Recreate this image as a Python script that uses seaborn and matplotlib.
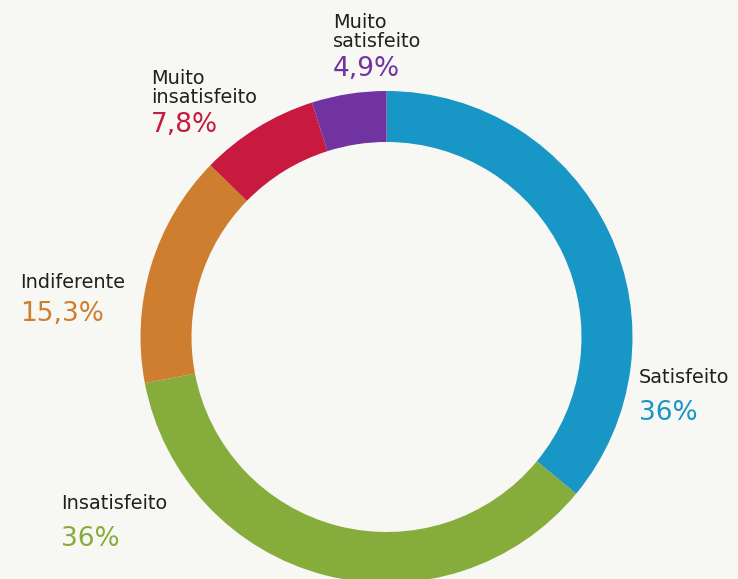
import matplotlib
matplotlib.use("Agg")
import matplotlib.pyplot as plt
import seaborn as sns

categories = ["Satisfeito", "Insatisfeito", "Indiferente", "Muito\ninsatisfeito", "Muito\nsatisfeito"]
values = [36.0, 36.0, 15.3, 7.8, 4.9]
value_labels = ["36%", "36%", "15,3%", "7,8%", "4,9%"]

colors = ["#1896c5", "#86ad3c", "#cd7e2e", "#c8193f", "#7133a0"]
BG = "#f7f7f3"
TXT = "#231f20"

sns.set_theme(style="white")
plt.rcParams["font.family"] = ["DejaVu Sans"]

W, H = 738, 579
fig = plt.figure(figsize=(W / 100, H / 100), dpi=100, facecolor=BG)
ax = fig.add_axes([0, 0, 1, 1])
ax.set_facecolor(BG)

cx, cy, R = 386.5, H - 337, 246
ax.pie(values, colors=colors, startangle=90, counterclock=False,
       center=(cx, cy), radius=R, frame=True,
       wedgeprops=dict(width=51, linewidth=0))
ax.set_xlim(0, W)
ax.set_ylim(0, H)
ax.set_aspect("equal")
ax.axis("off")

# (x, baseline of last label line, baseline of value) in pixel coords
label_pos = [(639, 383, 420), (61, 509, 546), (20, 288, 321), (151, 103, 132), (333, 47, 76)]

for cat, lab, col, (x, yb, yv) in zip(categories, value_labels, colors, label_pos):
    ax.text(x, H - yb, cat, ha="left", va="baseline", fontsize=13.9, color=TXT,
            linespacing=1.0)
    ax.text(x, H - yv, lab, ha="left", va="baseline", fontsize=19, color=col)

fig.savefig("out.png", dpi=100, facecolor=BG)
